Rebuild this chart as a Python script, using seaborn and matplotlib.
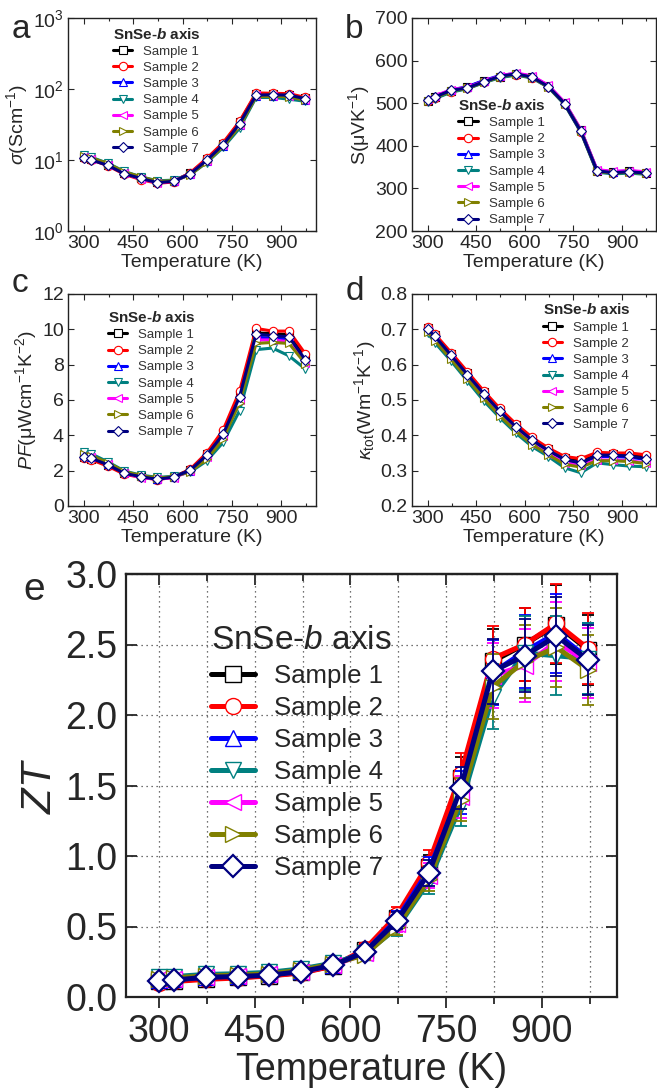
import numpy as np
import pandas as pd
import matplotlib
matplotlib.use("Agg")
import matplotlib.pyplot as plt
from matplotlib.ticker import MultipleLocator, NullLocator, LogLocator, FormatStrFormatter
import seaborn as sns

# temperatures (K) shared by all panels
temps = [300, 323, 373, 423, 473, 523, 573, 623, 673, 723, 773, 823, 873, 923, 973]
samples = ["Sample 1", "Sample 2", "Sample 3", "Sample 4", "Sample 5", "Sample 6", "Sample 7"]
colors = ["#000000", "#ff0000", "#0000ff", "#008080", "#ff00ff", "#808000", "#000080"]
markers = ["s", "o", "^", "v", "<", ">", "D"]

# a: electrical conductivity (S/cm)
sigma = [
    [11.0, 10.3, 8.6, 6.6, 5.6, 4.9, 5.1, 6.5, 10.2, 17.0, 34, 85, 84, 83, 74],
    [10.8, 10.1, 8.3, 6.3, 5.3, 4.7, 4.9, 6.6, 10.5, 17.5, 35, 88, 87, 86, 76],
    [11.5, 10.6, 8.8, 6.7, 5.7, 5.0, 5.0, 6.3, 9.6, 16.0, 31, 80, 80, 79, 70],
    [11.8, 10.9, 9.0, 6.9, 5.8, 5.1, 5.2, 6.2, 9.2, 15.0, 28, 76, 76, 72, 67],
    [11.2, 10.4, 8.5, 6.5, 5.4, 4.8, 5.0, 6.4, 9.8, 16.2, 31, 81, 80, 80, 71],
    [11.4, 10.7, 8.9, 6.8, 5.8, 5.0, 5.1, 6.2, 9.4, 15.5, 30, 78, 79, 78, 69],
    [10.5, 10.0, 8.4, 6.4, 5.5, 4.8, 5.0, 6.4, 9.9, 16.4, 32.5, 82, 83, 82, 73],
]
# b: Seebeck coefficient (uV/K)
seebeck = [
    [506, 514, 528, 538, 552, 562, 568, 562, 540, 500, 436, 342, 338, 340, 337],
    [505, 512, 527, 535, 549, 561, 567, 560, 538, 498, 433, 340, 336, 338, 335],
    [510, 516, 531, 539, 553, 565, 570, 563, 541, 501, 437, 343, 339, 341, 338],
    [503, 511, 526, 534, 548, 560, 566, 559, 537, 497, 432, 338, 334, 336, 333],
    [509, 517, 532, 537, 551, 564, 571, 564, 542, 502, 438, 344, 340, 342, 339],
    [504, 513, 529, 535, 549, 562, 568, 560, 538, 499, 435, 340, 336, 338, 335],
    [508, 515, 530, 536, 550, 563, 569, 561, 539, 499, 434, 341, 337, 339, 336],
]
# c: power factor (uW cm-1 K-2)
pf = [
    [2.80, 2.68, 2.30, 1.86, 1.68, 1.55, 1.66, 2.05, 2.92, 4.15, 6.30, 9.80, 9.75, 9.70, 8.40],
    [2.70, 2.62, 2.25, 1.80, 1.62, 1.50, 1.62, 2.08, 3.00, 4.30, 6.50, 10.05, 9.90, 9.90, 8.60],
    [2.88, 2.78, 2.40, 1.90, 1.70, 1.55, 1.65, 2.00, 2.85, 4.00, 6.10, 9.55, 9.50, 9.45, 8.20],
    [3.05, 2.95, 2.50, 1.98, 1.75, 1.62, 1.68, 1.92, 2.55, 3.60, 5.40, 8.85, 8.94, 8.50, 7.75],
    [2.85, 2.75, 2.38, 1.88, 1.60, 1.52, 1.60, 1.98, 2.75, 3.95, 6.00, 9.40, 9.40, 9.30, 8.10],
    [2.95, 2.85, 2.45, 1.95, 1.72, 1.58, 1.66, 1.95, 2.65, 3.80, 5.85, 9.20, 9.26, 9.20, 8.05],
    [2.78, 2.70, 2.33, 1.85, 1.66, 1.51, 1.64, 2.02, 2.87, 4.06, 6.18, 9.73, 9.64, 9.58, 8.26],
]
# d: total thermal conductivity (W m-1 K-1)
kappa = [
    [0.703, 0.683, 0.630, 0.576, 0.522, 0.472, 0.428, 0.390, 0.360, 0.336, 0.330, 0.348, 0.346, 0.344, 0.338],
    [0.706, 0.686, 0.634, 0.580, 0.526, 0.476, 0.432, 0.394, 0.364, 0.340, 0.334, 0.352, 0.350, 0.350, 0.345],
    [0.700, 0.679, 0.625, 0.570, 0.516, 0.466, 0.422, 0.384, 0.355, 0.330, 0.322, 0.340, 0.340, 0.338, 0.332],
    [0.690, 0.662, 0.610, 0.554, 0.498, 0.450, 0.406, 0.368, 0.340, 0.308, 0.294, 0.322, 0.317, 0.313, 0.311],
    [0.695, 0.672, 0.618, 0.563, 0.508, 0.458, 0.414, 0.376, 0.348, 0.322, 0.316, 0.330, 0.330, 0.328, 0.322],
    [0.692, 0.668, 0.615, 0.560, 0.505, 0.455, 0.412, 0.374, 0.345, 0.318, 0.310, 0.328, 0.328, 0.326, 0.320],
    [0.701, 0.680, 0.626, 0.572, 0.518, 0.468, 0.424, 0.386, 0.357, 0.332, 0.321, 0.344, 0.344, 0.341, 0.334],
]
# e: figure of merit ZT and its error bar
zt = [
    [0.11, 0.115, 0.13, 0.14, 0.15, 0.175, 0.22, 0.33, 0.56, 0.92, 1.55, 2.38, 2.50, 2.64, 2.46],
    [0.10, 0.11, 0.125, 0.135, 0.15, 0.17, 0.22, 0.34, 0.58, 0.95, 1.58, 2.40, 2.50, 2.65, 2.47],
    [0.12, 0.125, 0.14, 0.15, 0.16, 0.185, 0.23, 0.32, 0.55, 0.90, 1.45, 2.30, 2.45, 2.58, 2.40],
    [0.14, 0.145, 0.16, 0.165, 0.175, 0.20, 0.24, 0.31, 0.49, 0.82, 1.36, 2.13, 2.44, 2.42, 2.40],
    [0.125, 0.13, 0.145, 0.15, 0.16, 0.18, 0.225, 0.31, 0.52, 0.86, 1.42, 2.28, 2.35, 2.52, 2.37],
    [0.13, 0.135, 0.15, 0.155, 0.165, 0.19, 0.235, 0.30, 0.50, 0.84, 1.40, 2.20, 2.38, 2.48, 2.32],
    [0.115, 0.12, 0.14, 0.145, 0.155, 0.18, 0.225, 0.32, 0.54, 0.88, 1.48, 2.31, 2.42, 2.56, 2.39],
]
zt_err = [0.02, 0.02, 0.02, 0.02, 0.02, 0.03, 0.03, 0.04, 0.06, 0.09, 0.15, 0.23, 0.26, 0.28, 0.25]

sns.set_style("ticks")
plt.rcParams["font.family"] = ["Liberation Sans", "DejaVu Sans"]
plt.rcParams["mathtext.fontset"] = "custom"
plt.rcParams["mathtext.rm"] = "Liberation Sans"
plt.rcParams["mathtext.it"] = "Liberation Sans:italic"
plt.rcParams["mathtext.bf"] = "Liberation Sans:bold"
has_bfit = "mathtext.bfit" in plt.rcParams
if has_bfit:
    plt.rcParams["mathtext.bfit"] = "Liberation Sans:italic:bold"
bold_b = r"$\mathbfit{b}$" if has_bfit else r"$\mathit{b}$"

fig = plt.figure(figsize=(6.57, 10.92), dpi=100)
W, H = 657, 1092


def add_ax(left, top, right, bottom):
    return fig.add_axes([left / W, 1 - bottom / H, (right - left) / W, (bottom - top) / H])


ax_a = add_ax(68, 18, 316, 231)
ax_b = add_ax(412, 18, 656, 231)
ax_c = add_ax(68, 294, 316, 506)
ax_d = add_ax(412, 294, 656, 506)
ax_e = add_ax(126, 574, 617, 997)


def small_panel(ax, values, ylabel, ylim, leg_xy):
    for i in range(7):
        df = pd.DataFrame({"T": temps, "v": values[i]})
        sns.lineplot(data=df, x="T", y="v", ax=ax, color=colors[i], marker=markers[i],
                     lw=2.2, ms=6 if markers[i] != "D" else 5.5, mfc="white", mec=colors[i],
                     mew=0.8, label=samples[i])
    ax.set_xlim(252, 1005)
    ax.set_ylim(*ylim)
    ax.xaxis.set_major_locator(MultipleLocator(150))
    ax.xaxis.set_minor_locator(MultipleLocator(75))
    ax.tick_params(which="both", direction="in", top=True, right=True, labelsize=14, pad=3)
    ax.tick_params(which="major", length=4, width=0.8)
    ax.tick_params(which="minor", length=2.5, width=0.8)
    ax.set_xlabel("Temperature (K)", fontsize=14, labelpad=1)
    ax.set_ylabel(ylabel, fontsize=14, labelpad=2)
    for s in ax.spines.values():
        s.set_linewidth(1.0)
        s.set_color("#222222")
    leg = ax.legend(loc="upper left", bbox_to_anchor=leg_xy, frameon=False, fontsize=9.5,
                    title="SnSe-" + bold_b + " axis", alignment="left", borderpad=0,
                    borderaxespad=0, handlelength=1.5, handletextpad=0.8, labelspacing=0.3)
    leg.get_title().set_fontsize(11)
    leg.get_title().set_fontweight("bold")
    for t in leg.get_texts():
        t.set_color("#333333")


small_panel(ax_a, sigma, r"$\sigma$(Scm$^{-1}$)", (1, 1000), (0.18, 0.96))
ax_a.set_yscale("log")
ax_a.set_ylim(1, 1000)
ax_a.yaxis.set_major_locator(LogLocator(base=10, numticks=5))
ax_a.yaxis.set_minor_locator(NullLocator())

small_panel(ax_b, seebeck, r"S(μVK$^{-1}$)", (200, 700), (0.19, 0.625))
ax_b.yaxis.set_major_locator(MultipleLocator(100))

small_panel(ax_c, pf, r"$PF$(μWcm$^{-1}$K$^{-2}$)", (0, 12), (0.16, 0.925))
ax_c.yaxis.set_major_locator(MultipleLocator(2))

small_panel(ax_d, kappa, r"$\kappa_{\rm tot}$(Wm$^{-1}$K$^{-1}$)", (0.2, 0.8), (0.535, 0.96))
ax_d.yaxis.set_major_locator(MultipleLocator(0.1))
ax_d.yaxis.set_major_formatter(FormatStrFormatter("%.1f"))

# panel e: ZT with error bars
for i in range(7):
    ax_e.errorbar(temps, zt[i], yerr=zt_err, fmt="none", ecolor=colors[i], elinewidth=1.3,
                  capsize=4, capthick=1.3, zorder=2 + i)
    df = pd.DataFrame({"T": temps, "v": zt[i]})
    sns.lineplot(data=df, x="T", y="v", ax=ax_e, color=colors[i], marker=markers[i], lw=3.6,
                 ms=11.5 if markers[i] != "D" else 11, mfc="white", mec=colors[i],
                 mew=1.6 if markers[i] == "D" else 1.0, label=samples[i], zorder=2.5 + i)

ax_e.set_xlim(248, 1018)
ax_e.set_ylim(0, 3)
ax_e.xaxis.set_major_locator(MultipleLocator(150))
ax_e.xaxis.set_minor_locator(MultipleLocator(75))
ax_e.yaxis.set_major_locator(MultipleLocator(0.5))
ax_e.yaxis.set_major_formatter(FormatStrFormatter("%.1f"))
ax_e.grid(True, which="both", axis="x", ls=(0, (1, 3)), color="#444444", lw=0.9)
ax_e.grid(True, which="major", axis="y", ls=(0, (1, 3)), color="#444444", lw=0.9)
ax_e.set_axisbelow(True)
ax_e.tick_params(axis="x", which="both", direction="out", top=False, labelsize=27, pad=4)
ax_e.tick_params(axis="x", which="major", length=8, width=1.3)
ax_e.tick_params(axis="x", which="minor", length=5, width=1.3)
ax_e.tick_params(axis="y", which="both", direction="in", right=True, labelsize=27,
                 length=8, width=1.3, pad=6)
top = ax_e.secondary_xaxis("top")
top.xaxis.set_major_locator(MultipleLocator(150))
top.xaxis.set_minor_locator(MultipleLocator(75))
top.tick_params(which="both", direction="in", labeltop=False, width=1.3)
top.tick_params(which="major", length=8)
top.tick_params(which="minor", length=5)
top.spines["top"].set_linewidth(1.6)
for s in ax_e.spines.values():
    s.set_linewidth(1.6)
    s.set_color("#222222")
ax_e.set_xlabel("Temperature (K)", fontsize=27, labelpad=2)
ax_e.set_ylabel(r"$ZT$", fontsize=30, labelpad=4)
leg = ax_e.legend(loc="upper left", bbox_to_anchor=(0.173, 0.88), frameon=False, fontsize=18.5,
                  title="SnSe-" + r"$\mathit{b}$" + " axis", alignment="left", borderpad=0,
                  borderaxespad=0, handlelength=1.7, handletextpad=0.75, labelspacing=0.31)
leg.get_title().set_fontsize(24)

# panel letters
for letter, x, y, size in [("a", 12, 38, 24), ("b", 345, 38, 24), ("c", 12, 292, 24),
                           ("d", 346, 300, 24), ("e", 23, 600, 28)]:
    fig.text(x / W, 1 - y / H, letter, fontsize=size, va="baseline", ha="left")

fig.savefig("out.png", dpi=100)
